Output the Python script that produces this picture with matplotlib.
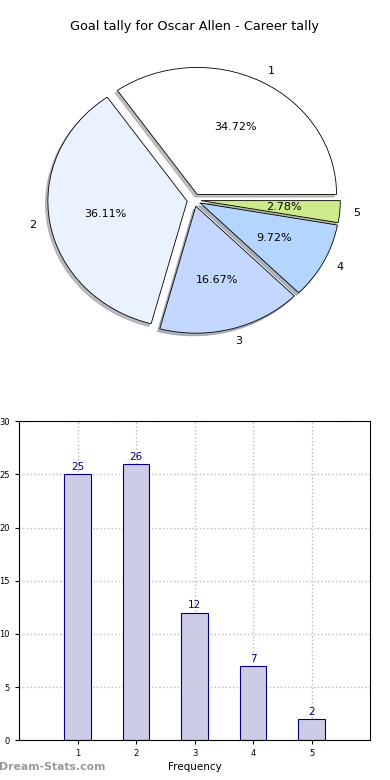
import matplotlib
matplotlib.use('Agg')
import matplotlib.pyplot as plt

# data
labels = ['1', '2', '3', '4', '5']
goals = [25, 26, 12, 7, 2]
colors = ['#ffffff', '#eaf1ff', '#c4d8ff', '#b3d5ff', '#cceb8a']

fig = plt.figure(figsize=(3.9, 7.8), dpi=100)

# pie on top
ax1 = fig.add_axes([0.051, 0.540, 0.893, 0.407])
wedges, texts, autotexts = ax1.pie(goals, labels=labels, colors=colors,
                                   explode=[0.05] * len(goals),
                                   shadow={'ox': -0.012, 'oy': -0.015, 'shade': 0.5},
                                   autopct='%.2f%%', startangle=0,
                                   wedgeprops={'edgecolor': 'black', 'linewidth': 0.6},
                                   textprops={'fontsize': 8})
ax1.set_aspect('auto')
ax1.set_xlim(-1.25, 1.25)
ax1.set_ylim(-1.25, 1.25)
ax1.set_title('Goal tally for Oscar Allen - Career tally', fontsize=9.3, pad=8)

# bars below
ax2 = fig.add_axes([0.049, 0.051, 0.900, 0.409])
x = range(1, len(goals) + 1)
bars = ax2.bar(x, goals, width=0.45, color='#ccccE6', edgecolor='navy', linewidth=0.8, zorder=2)
for xi, g in zip(x, goals):
    ax2.text(xi, g + 0.2, str(g), ha='center', va='bottom', color='navy', fontsize=7.5)
ax2.set_xlim(0, 6)
ax2.set_ylim(0, 30)
ax2.set_xticks(list(x))
ax2.set_yticks(range(0, 31, 5))
ax2.tick_params(labelsize=6, length=3)
ax2.grid(True, linestyle=':', color='#bbbbbb', linewidth=1)
ax2.set_axisbelow(True)
ax2.set_xlabel('Frequency', fontsize=7.5, labelpad=3)
ax2.set_ylabel('Goals scored', fontsize=7.5)
ax2.yaxis.set_label_coords(-0.055, 0.5)

fig.text(-0.003, 0.0125, 'Dream-Stats.com', fontsize=7.8, color='#999999', fontweight='bold')

fig.savefig('out.png', dpi=100)
